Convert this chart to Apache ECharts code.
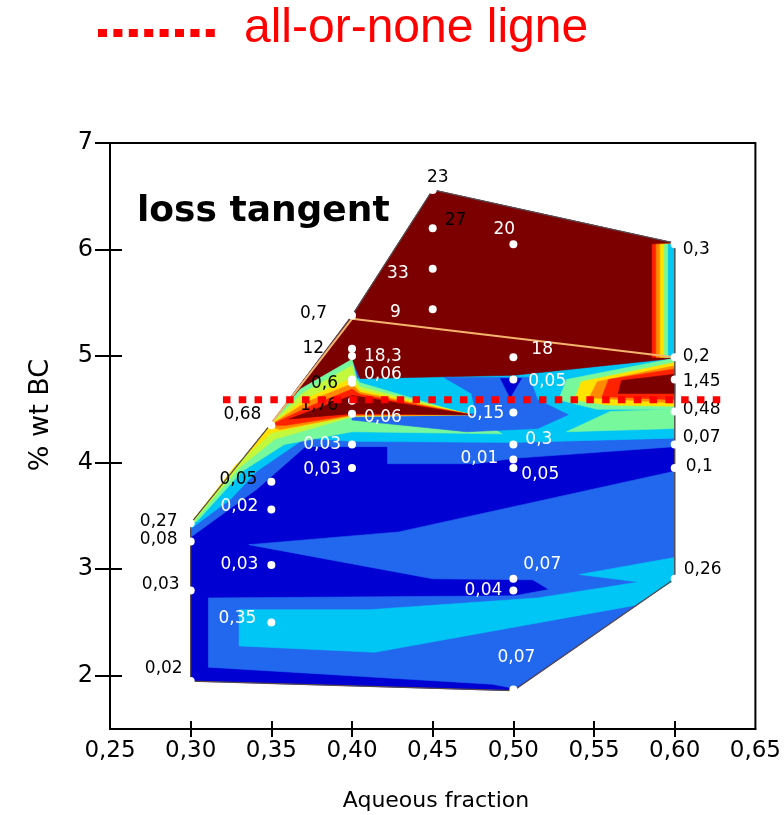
<!DOCTYPE html>
<html>
<head>
<meta charset="utf-8">
<script src="https://cdn.jsdelivr.net/npm/echarts@6/dist/echarts.min.js"></script>
<style>
html, body { margin: 0; padding: 0; background: #fff; }
#chart { width: 784px; height: 815px; }
</style>
</head>
<body>
<div id="chart"></div>
<script>
// measured samples: aqueous fraction, % wt BC, loss tangent
const pointX = [0.30, 0.30, 0.30, 0.30,
  0.35, 0.35, 0.35, 0.35, 0.35,
  0.40, 0.40, 0.40, 0.40, 0.40, 0.40, 0.40, 0.40, 0.40,
  0.45, 0.45, 0.45, 0.45,
  0.50, 0.50, 0.50, 0.50, 0.50, 0.50, 0.50, 0.50, 0.50, 0.50,
  0.60, 0.60, 0.60, 0.60, 0.60, 0.60, 0.60];
const pointY = [3.43, 3.26, 2.80, 1.95,
  4.35, 3.82, 3.56, 3.04, 2.50,
  5.38, 5.07, 5.00, 4.78, 4.75, 4.58, 4.46, 4.17, 3.95,
  6.56, 6.20, 5.82, 5.44,
  6.05, 4.99, 4.78, 4.47, 4.17, 4.03, 3.95, 2.91, 2.80, 1.87,
  6.05, 4.99, 4.78, 4.48, 4.17, 3.95, 2.91];
const pointText = ['0,27', '0,08', '0,03', '0,02',
  '0,68', '0,05', '0,02', '0,03', '0,35',
  '0,7', '12', '18,3', '0,06', '0,6', '1,76', '0,06', '0,03', '0,03',
  '23', '27', '33', '9',
  '20', '18', '0,05', '0,15', '0,3', '0,01', '0,05', '0,07', '0,04', '0,07',
  '0,3', '0,2', '1,45', '0,48', '0,07', '0,1', '0,26'];

const xTicks = [0.25, 0.30, 0.35, 0.40, 0.45, 0.50, 0.55, 0.60, 0.65];
const yTicks = [2, 3, 4, 5, 6, 7];

// contour regions (vertices in data units)
const outline = [[0.30, 1.95], [0.30, 3.43], [0.349, 4.35], [0.40, 5.38], [0.45, 6.56], [0.60, 6.06], [0.60, 2.91], [0.50, 1.86]];
const lowMed = [[0.311, 2.73], [0.501, 2.75], [0.522, 2.81], [0.512, 2.90], [0.450, 2.91], [0.336, 3.23], [0.429, 3.35], [0.600, 3.92], [0.600, 2.91], [0.501, 1.88], [0.487, 1.92], [0.311, 2.08]];
const lowCyan = [[0.330, 2.62], [0.411, 2.62], [0.515, 2.73], [0.578, 2.88], [0.541, 2.95], [0.600, 3.11], [0.600, 2.90], [0.575, 2.66], [0.414, 2.22], [0.330, 2.28]];
const upMed = [[0.300, 3.30], [0.341, 3.75], [0.371, 4.15], [0.422, 4.15], [0.422, 3.99], [0.477, 3.99], [0.500, 4.04], [0.600, 4.15], [0.600, 4.98], [0.400, 4.98], [0.349, 4.35], [0.300, 3.43]];
const upCyan = [[0.300, 3.38], [0.325, 3.66], [0.341, 3.92], [0.371, 4.23], [0.400, 4.20], [0.500, 4.19], [0.600, 4.23], [0.600, 4.98], [0.500, 4.82], [0.400, 4.79], [0.349, 4.35], [0.300, 3.43]];
const topRed = [[0.349, 4.35], [0.400, 5.38], [0.450, 6.56], [0.600, 6.06], [0.600, 4.98], [0.500, 4.82], [0.405, 4.79], [0.400, 4.97], [0.368, 4.69]];
const edgeRed = [[0.586, 4.99], [0.586, 6.05], [0.600, 6.05], [0.600, 4.99]];
const edgeOrange = [[0.5885, 4.99], [0.5885, 6.05], [0.600, 6.05], [0.600, 4.99]];
const edgeYellow = [[0.591, 4.99], [0.591, 6.05], [0.600, 6.05], [0.600, 4.99]];
const edgeGreen = [[0.5935, 4.99], [0.5935, 6.05], [0.600, 6.05], [0.600, 4.99]];
const edgeCyan = [[0.596, 4.99], [0.596, 6.05], [0.600, 6.05], [0.600, 4.99]];
const fanGreen = [[0.300, 3.43], [0.304, 3.45], [0.332, 3.92], [0.358, 4.17], [0.400, 4.29], [0.493, 4.27], [0.474, 4.44], [0.405, 4.75], [0.403, 4.79], [0.400, 4.97], [0.368, 4.69], [0.349, 4.35]];
const midMed = [[0.457, 4.80], [0.510, 4.80], [0.515, 4.59], [0.534, 4.45], [0.515, 4.32], [0.471, 4.29], [0.400, 4.40], [0.400, 4.44], [0.477, 4.46], [0.474, 4.65]];
const midDark = [[0.492, 4.79], [0.505, 4.79], [0.498, 4.61]];
const fanYG = [[0.300, 3.43], [0.302, 3.45], [0.330, 3.95], [0.352, 4.22], [0.400, 4.43], [0.474, 4.45], [0.405, 4.71], [0.402, 4.78], [0.400, 4.91], [0.369, 4.65], [0.349, 4.35]];
const fanYellow = [[0.300, 3.43], [0.301, 3.45], [0.328, 3.98], [0.350, 4.28], [0.400, 4.44], [0.474, 4.45], [0.405, 4.68], [0.401, 4.76], [0.400, 4.79], [0.371, 4.60], [0.349, 4.35]];
const fanOrange = [[0.349, 4.35], [0.355, 4.31], [0.400, 4.44], [0.474, 4.45], [0.405, 4.66], [0.400, 4.74], [0.372, 4.57]];
const fanRed = [[0.349, 4.35], [0.359, 4.35], [0.400, 4.45], [0.474, 4.45], [0.405, 4.64], [0.400, 4.69], [0.374, 4.53]];
const fanDarkRed = [[0.361, 4.41], [0.400, 4.63], [0.474, 4.45], [0.400, 4.46]];
const rightWedge = [[0.533, 4.29], [0.560, 4.48], [0.600, 4.50], [0.600, 4.32]];
const rbGreen = [[0.528, 4.59], [0.533, 4.78], [0.600, 4.98], [0.600, 4.50], [0.552, 4.50]];
const rbYellow = [[0.538, 4.59], [0.542, 4.76], [0.600, 4.94], [0.600, 4.53], [0.558, 4.54]];
const rbOrange = [[0.547, 4.61], [0.552, 4.76], [0.600, 4.91], [0.600, 4.56]];
const rbRed = [[0.555, 4.62], [0.559, 4.78], [0.600, 4.88], [0.600, 4.59]];
const rbDarkRed = [[0.565, 4.65], [0.567, 4.77], [0.600, 4.83], [0.600, 4.65]];

const contourLine = [[0.349, 4.35], [0.400, 5.35], [0.600, 4.99]];
const allOrNone = [[0.320, 4.59], [0.633, 4.59]];

const colors = {
  darkBlue: '#0000d2', medBlue: '#2268ee', cyan: '#00c6f5', green: '#78f89c',
  yellowGreen: '#c4f83c', yellow: '#ffe200', orange: '#ff8a00', red: '#ff2200', darkRed: '#7d0000'
};

const layers = [
  [outline, 'darkBlue'], [lowMed, 'medBlue'], [lowCyan, 'cyan'], [upMed, 'medBlue'], [upCyan, 'cyan'],
  [topRed, 'darkRed'], [edgeRed, 'red'], [edgeOrange, 'orange'], [edgeYellow, 'yellow'], [edgeGreen, 'green'], [edgeCyan, 'cyan'],
  [fanGreen, 'green'], [midMed, 'medBlue'], [midDark, 'darkBlue'],
  [fanYG, 'yellowGreen'], [fanYellow, 'yellow'], [fanOrange, 'orange'], [fanRed, 'red'], [fanDarkRed, 'darkRed'],
  [rightWedge, 'green'], [rbGreen, 'green'], [rbYellow, 'yellow'], [rbOrange, 'orange'], [rbRed, 'red'], [rbDarkRed, 'darkRed']
];

// label placement: side, dx, dy, colour
const labelPlace = [
  ['left', -3, -2, 'k'], ['left', -3, -2, 'k'], ['left', -1, -6, 'k'], ['left', 2, -12, 'k'],
  ['left', 0, -11, 'k'], ['left', -4, -2, 'k'], ['left', -3, -3, 'w'], ['left', -3, 0, 'w'], ['left', -5, -4, 'w'],
  ['left', -15, -2, 'k'], ['left', -18, 0, 'k'], ['right', 2, 0, 'w'], ['right', 2, -5, 'w'], ['left', -4, 1, 'k'],
  ['left', -4, 5, 'k'], ['right', 2, 4, 'w'], ['left', -1, 0, 'w'], ['left', -1, 2, 'w'],
  ['inside', 5, -12, 'k'], ['right', 2, -8, 'k'], ['left', -14, 5, 'w'], ['left', -22, 3, 'w'],
  ['inside', -9, -15, 'w'], ['right', 8, -8, 'w'], ['right', 5, 2, 'w'], ['left', 1, 1, 'w'], ['right', 2, -5, 'w'],
  ['left', -5, -1, 'w'], ['right', -2, 7, 'w'], ['right', 0, -14, 'w'], ['left', -1, 0, 'w'], ['inside', 3, -32, 'w'],
  ['right', -2, 5, 'k'], ['right', -2, -1, 'k'], ['right', -2, 2, 'k'], ['right', -2, -2, 'k'], ['right', -2, -7, 'k'],
  ['right', 1, -1, 'k'], ['right', -1, -9, 'k']
];

const font = 'DejaVu Sans';
const chart = echarts.init(document.getElementById('chart'));

const points = pointX.map((x, i) => {
  const p = labelPlace[i];
  return {
    value: [x, pointY[i]],
    label: {
      show: true, formatter: pointText[i], position: p[0], offset: [p[1], p[2]],
      distance: 6, color: p[3] === 'k' ? '#000' : '#fff', fontSize: 17, fontFamily: font, opacity: 1
    }
  };
});

const axisBase = {
  type: 'value', splitLine: { show: false },
  axisLine: { lineStyle: { color: '#000', width: 2 } }
};

chart.setOption({
  animation: false,
  grid: { left: 110, right: 22, top: 143, bottom: 86, show: true, borderColor: '#000', borderWidth: 2 },
  xAxis: [
    Object.assign({}, axisBase, {
      min: 0.25, max: 0.65,
      axisTick: { customValues: xTicks.slice(1, -1), length: 8, lineStyle: { color: '#000', width: 2 } },
      axisLabel: { customValues: xTicks, margin: 11, fontSize: 23, color: '#000', fontFamily: font,
        formatter: v => v.toFixed(2).replace('.', ',') }
    }),
    Object.assign({}, axisBase, {
      min: 0.25, max: 0.65, position: 'bottom', axisLine: { show: false },
      axisTick: { customValues: xTicks.slice(1, -1), inside: true, length: 8, lineStyle: { color: '#000', width: 2 } },
      axisLabel: { show: false }
    })
  ],
  yAxis: [
    Object.assign({}, axisBase, {
      min: 1.5, max: 7,
      axisTick: { customValues: yTicks, length: 15, lineStyle: { color: '#000', width: 2 } },
      axisLabel: { customValues: yTicks, margin: 17, fontSize: 24, color: '#000', fontFamily: font }
    }),
    Object.assign({}, axisBase, {
      min: 1.5, max: 7, position: 'left', offset: 0, axisLine: { show: false },
      axisTick: { customValues: yTicks.slice(0, -1), inside: true, length: 12, lineStyle: { color: '#000', width: 2 } },
      axisLabel: { show: false }
    })
  ],
  graphic: [
    { type: 'line', shape: { x1: 98, y1: 33, x2: 220, y2: 33 },
      style: { stroke: '#ff0000', lineWidth: 8, lineDash: [9, 6.4] } },
    { type: 'text', x: 244, y: 5, style: { text: 'all-or-none ligne', fill: '#ff0000',
      font: '48px "Liberation Sans", Arial, sans-serif', verticalAlign: 'top' } },
    { type: 'text', x: 137, y: 194, z: 20, style: { text: 'loss tangent', fill: '#000',
      font: 'bold 36px "DejaVu Sans", sans-serif', verticalAlign: 'top' } },
    { type: 'text', x: 41, y: 415, rotation: Math.PI / 2, style: { text: '% wt BC', fill: '#000',
      font: '27px "DejaVu Sans", sans-serif', align: 'center', verticalAlign: 'middle' } },
    { type: 'text', x: 436, y: 801, style: { text: 'Aqueous fraction', fill: '#000',
      font: '22px "DejaVu Sans", sans-serif', align: 'center', verticalAlign: 'middle' } }
  ],
  series: [
    {
      type: 'custom', silent: true, z: 1,
      data: layers.map((l, i) => [l[0][0][0], l[0][0][1], i]),
      encode: { x: 0, y: 1 },
      renderItem: (params, api) => {
        const layer = layers[api.value(2)];
        const c = colors[layer[1]];
        return {
          type: 'polygon',
          shape: { points: layer[0].map(p => api.coord(p)) },
          style: { fill: c, stroke: c, lineWidth: 0.6 }
        };
      }
    },
    {
      type: 'line', silent: true, z: 3, symbol: 'none',
      data: outline.concat([outline[0]]),
      lineStyle: { color: '#5a4a4a', width: 1.2 }
    },
    {
      type: 'line', silent: true, z: 3, symbol: 'none', data: contourLine,
      lineStyle: { color: '#f4b46c', width: 2 }
    },
    {
      type: 'scatter', silent: true, z: 5, symbol: 'circle', symbolSize: 8,
      itemStyle: { color: '#fff', opacity: 1 }, data: points
    },
    {
      type: 'line', silent: true, z: 10, symbol: 'none', data: allOrNone,
      lineStyle: { color: '#ff0000', width: 7, type: [7.5, 8.3], cap: 'butt' }
    }
  ]
});
</script>
</body>
</html>
